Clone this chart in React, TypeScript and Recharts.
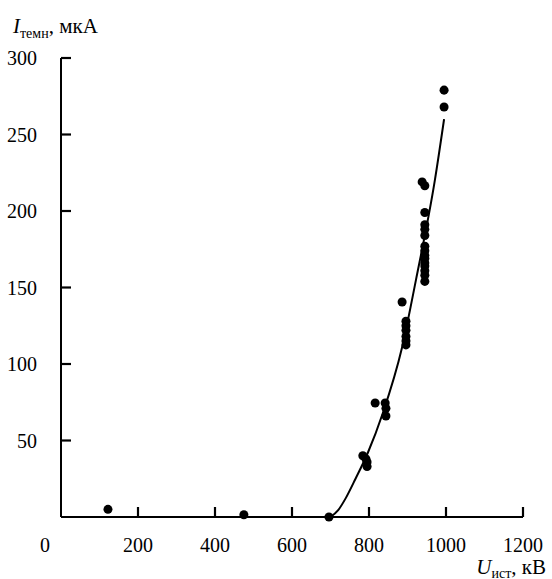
import { ScatterChart, Scatter, XAxis, YAxis, Label } from 'recharts'

// measured points: U (kV) and I (uA)
const pointU = [
  122, 475, 696, 784, 792, 795, 795, 816, 842, 844, 844, 886,
  896, 896, 896, 896, 896, 896, 938, 945, 945, 945, 945, 945,
  945, 945, 945, 945, 945, 945, 945, 945, 945, 995, 995,
]
const pointI = [
  5, 1.5, 0, 40, 38, 36, 33, 74.5, 74.5, 71, 66, 140.5,
  128, 125, 122, 118, 115, 112.5, 219, 216.5, 199, 191, 188, 184,
  177, 174, 171, 169, 166, 164, 161, 158, 154, 279, 268,
]

// fitted curve
const curveU = [700, 720, 740, 765, 797, 836, 886, 922, 971, 995]
const curveI = [0, 4.5, 12.5, 25, 42, 68, 111, 155, 220, 260]

const xTicks = [0, 200, 400, 600, 800, 1000, 1200]
const yTicks = [50, 100, 150, 200, 250, 300]

const FONT = 'Liberation Serif'
const MARGIN = 20
const TICK = 10

const points = pointU.map((u, i) => ({ x: u, y: pointI[i] }))
const curve = curveU.map((u, i) => ({ x: u, y: curveI[i] }))

// ticks point inward, so the mark is drawn together with the label
const renderXTick = (p: any) => {
  const x = Number(p.x)
  const y = Number(p.y)
  const v = p.payload.value
  const base = y - MARGIN
  return (
    <g key={`xt-${v}`}>
      {v !== 0 && (
        <path d={`M${x},${base}L${x},${base - TICK}`} stroke="#000" strokeWidth={2.2} fill="none" />
      )}
      <text x={v === 0 ? x - 16 : x} y={y + 15} textAnchor="middle" fontFamily={FONT} fontSize={20} fill="#000">
        {v}
      </text>
    </g>
  )
}

const renderYTick = (p: any) => {
  const x = Number(p.x)
  const y = Number(p.y)
  const v = p.payload.value
  const base = x + MARGIN
  return (
    <g key={`yt-${v}`}>
      <path d={`M${base},${y}L${base + TICK},${y}`} stroke="#000" strokeWidth={2.2} fill="none" />
      <text x={x - 4} y={y + 7} textAnchor="end" fontFamily={FONT} fontSize={20} fill="#000">
        {v}
      </text>
    </g>
  )
}

const AxisTitles = () => (
  <g>
    <text x={13} y={33} textAnchor="start" fontFamily={FONT} fontSize={21} fill="#000">
      <tspan fontStyle="italic">I</tspan>
      <tspan fontSize={14} dy={5}>темн</tspan>
      <tspan dy={-5}>, мкА</tspan>
    </text>
    <text x={546} y={574} textAnchor="end" fontFamily={FONT} fontSize={21} fill="#000">
      <tspan fontStyle="italic">U</tspan>
      <tspan fontSize={14} dy={4}>ист</tspan>
      <tspan dy={-4}>, кВ</tspan>
    </text>
  </g>
)

export default function App() {
  return (
    <div style={{ position: 'absolute', left: 0, top: 0, background: '#fff' }}>
      <ScatterChart width={552} height={579} margin={{ top: 58, right: 29, bottom: 0, left: 0 }}>
        <XAxis
          type="number"
          dataKey="x"
          domain={[0, 1200]}
          ticks={xTicks}
          height={62}
          axisLine={{ stroke: '#000', strokeWidth: 2 }}
          tickLine={false}
          tickSize={0}
          tickMargin={MARGIN}
          tick={renderXTick}
        >
          <Label content={() => <AxisTitles />} />
        </XAxis>
        <YAxis
          type="number"
          dataKey="y"
          domain={[0, 300]}
          ticks={yTicks}
          width={61}
          axisLine={{ stroke: '#000', strokeWidth: 2 }}
          tickLine={false}
          tickSize={0}
          tickMargin={MARGIN}
          tick={renderYTick}
        />
        <Scatter
          data={curve}
          line={{ stroke: '#000', strokeWidth: 2 }}
          lineJointType="monotoneX"
          shape={() => <g />}
          isAnimationActive={false}
        />
        <Scatter data={points} fill="#000" shape="circle" isAnimationActive={false} />
      </ScatterChart>
    </div>
  )
}
